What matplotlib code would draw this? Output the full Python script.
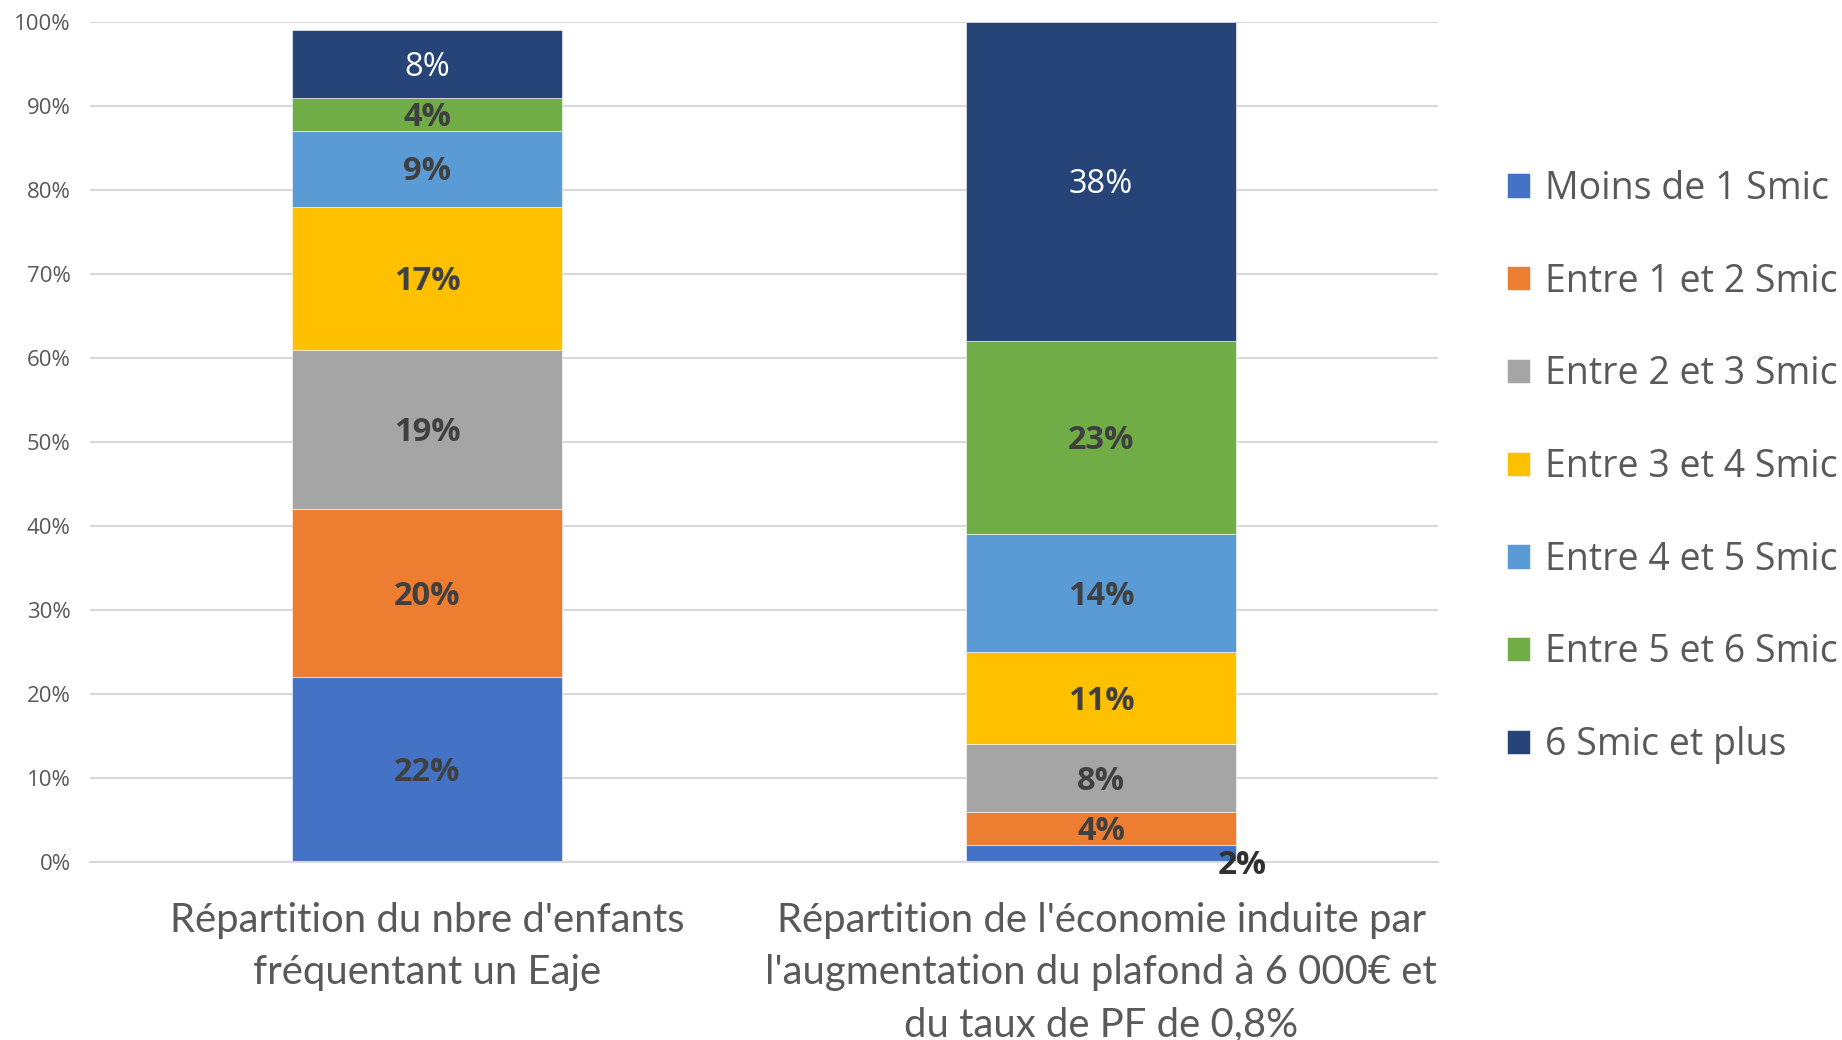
import matplotlib.pyplot as plt
import matplotlib.transforms as mtransforms
import numpy as np

# data (shares, %)
categories = ["Répartition du nbre d'enfants\nfréquentant un Eaje",
              "Répartition de l'économie induite par\nl'augmentation du plafond à 6 000€ et\ndu taux de PF de 0,8%"]
series = ["Moins de 1 Smic", "Entre 1 et 2 Smic", "Entre 2 et 3 Smic",
          "Entre 3 et 4 Smic", "Entre 4 et 5 Smic", "Entre 5 et 6 Smic",
          "6 Smic et plus"]
enfants = [22, 20, 19, 17, 9, 4, 8]
economie = [2, 4, 8, 11, 14, 23, 38]
colors = ["#4472C4", "#ED7D31", "#A5A5A5", "#FFC000", "#5B9BD5", "#70AD47", "#264478"]

values = np.array([enfants, economie]) / 100.0
x = np.arange(len(categories))

fig = plt.figure(figsize=(18.42, 10.40), dpi=100)
ax = fig.add_axes([90 / 1842, 1 - 862 / 1040, 1348 / 1842, 840 / 1040])

# nudge labels slightly down, like the original
down = mtransforms.offset_copy(ax.transData, fig=fig, x=0, y=-3, units="dots")

bottom = np.zeros(len(categories))
for i, name in enumerate(series):
    v = values[:, i]
    ax.bar(x, v, width=0.4, bottom=bottom, color=colors[i], label=name,
           edgecolor="white", linewidth=0.4, zorder=2)
    for j in range(len(categories)):
        txt = f"{int(round(v[j] * 100))}%"
        if name == "6 Smic et plus":
            ax.text(x[j], bottom[j] + v[j] / 2, txt, ha="center", va="center",
                    color="white", fontsize=23.5, family="Open Sans",
                    transform=down, zorder=3)
        elif v[j] < 0.03:
            ax.text(x[j] + 0.21, 0.0, txt, ha="center", va="center",
                    color="#303030", fontsize=24, fontweight="bold",
                    family="Open Sans", transform=down, zorder=3)
        else:
            ax.text(x[j], bottom[j] + v[j] / 2, txt, ha="center", va="center",
                    color="#404040", fontsize=23.5, fontweight="bold",
                    family="Open Sans", transform=down, zorder=3)
    bottom += v

ax.set_xlim(-0.5, 1.5)
ax.set_ylim(0, 1)
ticks = np.arange(0, 1.01, 0.1)
ax.set_yticks(ticks)
ax.set_yticklabels([f"{int(round(t * 100))}%" for t in ticks],
                   family="Open Sans", fontsize=16, color="#595959")
ax.yaxis.grid(True, color="#D9D9D9", linewidth=1.5, zorder=0)
ax.set_axisbelow(True)
ax.tick_params(axis="y", length=0, pad=14)
ax.set_xticks(x)
ax.set_xticklabels(categories, family="Lato", fontsize=28.8, color="#595959",
                   linespacing=1.5)
ax.tick_params(axis="x", length=0, pad=29)
for s in ["top", "right", "left"]:
    ax.spines[s].set_visible(False)
ax.spines["bottom"].set_color("#D9D9D9")
ax.spines["bottom"].set_linewidth(1.5)

leg = fig.legend(loc="center left", bbox_to_anchor=(1507 / 1842, 1 - 467 / 1040),
                 frameon=False, prop={"family": "Open Sans", "size": 27},
                 labelcolor="#595959", handlelength=0.62, handleheight=0.62,
                 handletextpad=0.4, labelspacing=1.46, borderpad=0,
                 borderaxespad=0)

fig.savefig("out.png", dpi=100)
